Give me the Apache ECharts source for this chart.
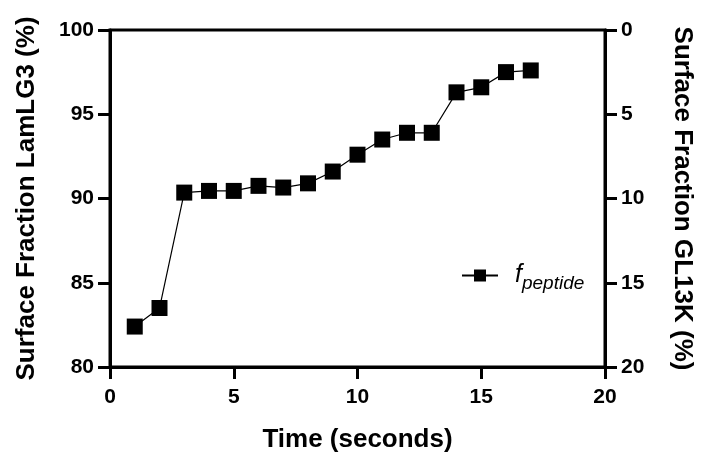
<!DOCTYPE html>
<html>
<head>
<meta charset="utf-8">
<script src="https://cdn.jsdelivr.net/npm/echarts@6/dist/echarts.min.js"></script>
<style>html,body{margin:0;padding:0;background:#fff;}#c{width:701px;height:455px;}</style>
</head>
<body>
<div id="c"></div>
<script>
var timeSeconds = [1, 2, 3, 4, 5, 6, 7, 8, 9, 10, 11, 12, 13, 14, 15, 16, 17];
var fPeptide = [82.4, 83.5, 90.35, 90.45, 90.45, 90.75, 90.65, 90.9, 91.6, 92.6, 93.5, 93.9, 93.9, 96.3, 96.6, 97.5, 97.6];
var xTicks = [0, 5, 10, 15, 20];
var leftTicks = [80, 85, 90, 95, 100];
var rightTicks = [0, 5, 10, 15, 20];

var chart = echarts.init(document.getElementById('c'), null, {renderer: 'canvas'});
var font = 'Liberation Sans, Arial, Helvetica, sans-serif';
var axisLine = {onZero: false, lineStyle: {color: '#000', width: 3}};
var axisTick = {length: 12, lineStyle: {color: '#000', width: 3}};
var labelStyle = {color: '#000', fontSize: 21, fontWeight: 'bold', fontFamily: font};
var nameStyle = {color: '#000', fontSize: 26, fontWeight: 'bold', fontFamily: font};

chart.setOption({
  animation: false,
  grid: {left: 110, right: 96, top: 30, bottom: 88, outerBoundsMode: 'none', containLabel: false, show: true, borderColor: '#000', borderWidth: 3, backgroundColor: 'transparent'},
  legend: {
    left: 456, top: 258,
    itemWidth: 36, itemHeight: 15, itemGap: 0,
    data: [{name: 'fpeptide'}],
    formatter: function () { return '{f|f}{s|peptide}'; },
    textStyle: {
      rich: {
        f: {fontSize: 25, fontStyle: 'italic', fontFamily: font, color: '#000', padding: [0, 0, 0, 12]},
        s: {fontSize: 19, fontStyle: 'italic', fontFamily: font, color: '#000', padding: [16, 0, 0, 0]}
      }
    }
  },
  xAxis: {
    type: 'value', min: xTicks[0], max: xTicks[xTicks.length - 1], interval: 5,
    name: 'Time (seconds)', nameLocation: 'middle', nameGap: 60, nameTextStyle: nameStyle,
    axisLine: axisLine, axisTick: axisTick, splitLine: {show: false},
    axisLabel: Object.assign({margin: 20}, labelStyle)
  },
  yAxis: [{
    type: 'value', min: leftTicks[0], max: leftTicks[leftTicks.length - 1], interval: 5, position: 'left',
    name: 'Surface Fraction LamLG3 (%)', nameLocation: 'middle', nameGap: 70, nameTextStyle: nameStyle,
    axisLine: Object.assign({show: true}, axisLine), axisTick: Object.assign({show: true}, axisTick), splitLine: {show: false},
    axisLabel: Object.assign({margin: 16}, labelStyle)
  }, {
    type: 'value', min: rightTicks[0], max: rightTicks[rightTicks.length - 1], interval: 5, position: 'right', inverse: true,
    name: 'Surface Fraction GL13K (%)', nameLocation: 'middle', nameGap: 64, nameRotate: -90, nameTextStyle: nameStyle,
    axisLine: Object.assign({show: true}, axisLine), axisTick: Object.assign({show: true}, axisTick), splitLine: {show: false},
    axisLabel: Object.assign({margin: 16}, labelStyle)
  }],
  series: [{
    name: 'fpeptide', type: 'line', yAxisIndex: 0,
    data: timeSeconds.map(function (t, i) { return [t, fPeptide[i]]; }),
    symbol: 'rect', symbolSize: 16,
    itemStyle: {color: '#000'},
    lineStyle: {color: '#000', width: 1.2}
  }]
});
</script>
</body>
</html>
